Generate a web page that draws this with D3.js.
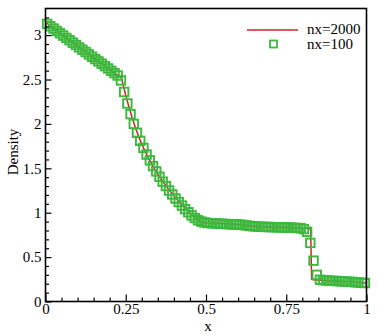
<!DOCTYPE html>
<html>
<head>
<meta charset="utf-8">
<script src="https://cdn.jsdelivr.net/npm/d3@7"></script>
<style>
  html, body { margin: 0; padding: 0; background: #fff; }
  svg { display: block; }
  text { font-family: "Liberation Serif", "Times New Roman", serif; }
</style>
</head>
<body>
<svg id="chart" width="378" height="334"></svg>
<script>
// ---- data ----
const seriesNames = ["nx=2000", "nx=100"];

// reference solution (nx=2000)
const refX = [0, 0.05, 0.10, 0.15, 0.20, 0.232, 0.237, 0.242, 0.25, 0.26, 0.27, 0.28, 0.29, 0.30, 0.32, 0.34, 0.36, 0.38, 0.40, 0.42, 0.44, 0.46, 0.48, 0.50, 0.55, 0.60, 0.62, 0.64, 0.66, 0.70, 0.75, 0.80, 0.826, 0.829, 0.835, 0.86, 0.90, 0.95, 1.0];
const refRho = [3.145, 3.012, 2.879, 2.746, 2.613, 2.53, 2.515, 2.44, 2.32, 2.19, 2.07, 1.96, 1.86, 1.77, 1.62, 1.49, 1.38, 1.28, 1.19, 1.11, 1.035, 0.96, 0.905, 0.885, 0.878, 0.868, 0.86, 0.85, 0.845, 0.84, 0.833, 0.826, 0.82, 0.25, 0.245, 0.24, 0.232, 0.22, 0.207];

// coarse solution (nx=100), cell centres
const coarseX = [0.005,0.015,0.025,0.035,0.045,0.055,0.065,0.075,0.085,0.095,
  0.105,0.115,0.125,0.135,0.145,0.155,0.165,0.175,0.185,0.195,
  0.205,0.215,0.225,0.235,0.245,0.255,0.265,0.275,0.285,0.295,
  0.305,0.315,0.325,0.335,0.345,0.355,0.365,0.375,0.385,0.395,
  0.405,0.415,0.425,0.435,0.445,0.455,0.465,0.475,0.485,0.495,
  0.505,0.515,0.525,0.535,0.545,0.555,0.565,0.575,0.585,0.595,
  0.605,0.615,0.625,0.635,0.645,0.655,0.665,0.675,0.685,0.695,
  0.705,0.715,0.725,0.735,0.745,0.755,0.765,0.775,0.785,0.795,
  0.805,0.815,0.825,0.835,0.845,0.855,0.865,0.875,0.885,0.895,
  0.905,0.915,0.925,0.935,0.945,0.955,0.965,0.975,0.985,0.995];
const coarseRho = [3.127,3.10,3.074,3.047,3.021,2.995,2.968,2.942,2.915,2.889,
  2.862,2.836,2.81,2.783,2.757,2.73,2.704,2.678,2.651,2.625,
  2.598,2.572,2.545,2.49,2.36,2.23,2.11,2.00,1.90,1.81,
  1.73,1.655,1.59,1.525,1.465,1.405,1.35,1.30,1.25,1.205,
  1.16,1.12,1.08,1.04,1.005,0.97,0.94,0.915,0.90,0.89,
  0.885,0.882,0.88,0.878,0.876,0.874,0.872,0.87,0.869,0.868,
  0.866,0.862,0.857,0.852,0.848,0.845,0.843,0.841,0.84,0.839,
  0.838,0.837,0.836,0.835,0.834,0.833,0.832,0.83,0.828,0.825,
  0.815,0.785,0.66,0.46,0.30,0.245,0.24,0.237,0.235,0.233,
  0.231,0.229,0.227,0.225,0.222,0.22,0.217,0.214,0.211,0.208];

const xMajor = [0, 0.25, 0.5, 0.75, 1];
const xMajorLabels = ["0", "0.25", "0.5", "0.75", "1"];
const yMajor = [0, 0.5, 1, 1.5, 2, 2.5, 3];
const yMajorLabels = ["0", "0.5", "1", "1.5", "2", "2.5", "3"];
const xMinor = [0.05,0.1,0.15,0.2,0.3,0.35,0.4,0.45,0.55,0.6,0.65,0.7,0.8,0.85,0.9,0.95];
const yMinor = [0.1,0.2,0.3,0.4,0.6,0.7,0.8,0.9,1.1,1.2,1.3,1.4,1.6,1.7,1.8,1.9,2.1,2.2,2.3,2.4,2.6,2.7,2.8,2.9,3.1,3.2];

// ---- drawing ----
const red = "#c8282c", green = "#3cb83c";
const svg = d3.select("#chart");
const L = 45.5, R = 366.5, T = 8.5, B = 301.5;
const x = d3.scaleLinear().domain([0, 1]).range([L, R]);
const y = d3.scaleLinear().domain([0, 3.3]).range([B, T]);

svg.append("clipPath").attr("id", "clip")
  .append("rect").attr("x", L).attr("y", T).attr("width", R - L).attr("height", B - T);

const plot = svg.append("g").attr("clip-path", "url(#clip)");

const line = d3.line().x((d, i) => x(refX[i])).y((d, i) => y(refRho[i]));
plot.append("path").datum(refRho).attr("d", line)
  .attr("fill", "none").attr("stroke", red).attr("stroke-width", 1.5);

const sq = 8.5;
svg.append("g").selectAll("rect").data(coarseRho).join("rect")
  .attr("x", (d, i) => x(coarseX[i]) - sq / 2)
  .attr("y", d => y(d) - sq / 2)
  .attr("width", sq).attr("height", sq)
  .attr("fill", "none").attr("stroke", green).attr("stroke-width", 1.9);

// axes
const fontSize = 15;
const gx = svg.append("g").attr("transform", `translate(0,${B})`)
  .call(d3.axisBottom(x).tickValues(xMajor).tickSize(-7).tickPadding(1.5)
    .tickFormat((d, i) => xMajorLabels[i]));
const gxm = svg.append("g").attr("transform", `translate(0,${B})`)
  .call(d3.axisBottom(x).tickValues(xMinor).tickSize(-4).tickFormat(""));
const gy = svg.append("g").attr("transform", `translate(${L},0)`)
  .call(d3.axisLeft(y).tickValues(yMajor).tickSize(-6).tickPadding(4)
    .tickFormat((d, i) => yMajorLabels[i]));
const gym = svg.append("g").attr("transform", `translate(${L},0)`)
  .call(d3.axisLeft(y).tickValues(yMinor).tickSize(-3.5).tickFormat(""));

[gx, gxm, gy, gym].forEach(g => {
  g.select(".domain").remove();
  g.selectAll("line").attr("stroke", "#000").attr("stroke-width", 1.2);
  g.selectAll("text").attr("font-family", "Liberation Serif, serif")
    .attr("font-size", fontSize).attr("fill", "#000");
});

// frame
svg.append("rect").attr("x", L).attr("y", T).attr("width", R - L).attr("height", B - T)
  .attr("fill", "none").attr("stroke", "#000").attr("stroke-width", 1.6);

// axis titles
svg.append("text").attr("x", x(0.5) + 2).attr("y", 330.5)
  .attr("text-anchor", "middle").attr("font-size", fontSize).text("x");
svg.append("text").attr("transform", `translate(17.5,${152}) rotate(-90)`)
  .attr("text-anchor", "middle").attr("font-size", fontSize).text("Density");

// legend
const lg = svg.append("g");
lg.append("line").attr("x1", 247).attr("x2", 298).attr("y1", 30).attr("y2", 30)
  .attr("stroke", red).attr("stroke-width", 1.5);
lg.append("text").attr("x", 307).attr("y", 33.5).attr("font-size", fontSize).text(seriesNames[0]);
lg.append("rect").attr("x", 273.5 - 3.5).attr("y", 44 - 3.5).attr("width", 7).attr("height", 7)
  .attr("fill", "none").attr("stroke", green).attr("stroke-width", 1.8);
lg.append("text").attr("x", 307).attr("y", 48.5).attr("font-size", fontSize).text(seriesNames[1]);
</script>
</body>
</html>
